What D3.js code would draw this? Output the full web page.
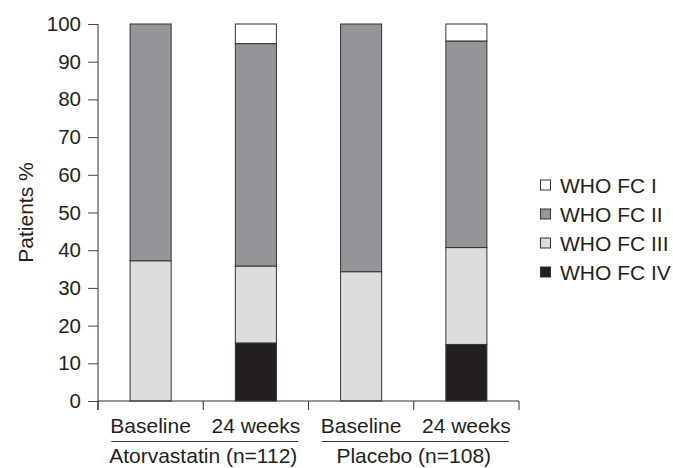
<!DOCTYPE html>
<html><head><meta charset="utf-8">
<script src="https://cdn.jsdelivr.net/npm/d3@7"></script>
<style>body{margin:0;background:#fff}svg{display:block}text{font-family:"Liberation Sans",Arial,sans-serif;fill:#231f20}</style>
</head><body><svg id="c" width="673" height="468"></svg>
<script>
const categories = ["Baseline", "24 weeks", "Baseline ", "24 weeks "];
const groups = ["Atorvastatin (n=112)", "Placebo (n=108)"];
const seriesNames = ["WHO FC IV", "WHO FC III", "WHO FC II", "WHO FC I"];
const fcIV  = [0, 15.4, 0, 15.0];
const fcIII = [37.2, 20.4, 34.3, 25.7];
const fcII  = [62.8, 59.0, 65.7, 54.8];
const fcI   = [0, 5.2, 0, 4.5];
const yTicks = [0,10,20,30,40,50,60,70,80,90,100];
const colors = {"WHO FC I":"#ffffff","WHO FC II":"#939598","WHO FC III":"#dcdddf","WHO FC IV":"#231f20"};

const svg = d3.select("#c");
const x0 = 98, x1 = 519, yTop = 24, yBot = 401;
const x = d3.scaleBand().domain(categories).range([x0, x1]).paddingInner(0.61).paddingOuter(0.305);
const y = d3.scaleLinear().domain([0, 100]).range([yBot, yTop]);

const rows = categories.map((c, i) => ({cat: c, "WHO FC IV": fcIV[i], "WHO FC III": fcIII[i], "WHO FC II": fcII[i], "WHO FC I": fcI[i]}));
const stack = d3.stack().keys(seriesNames)(rows);

const g = svg.append("g");
stack.forEach(s => {
  g.selectAll(null).data(s.filter(d => d[1] - d[0] > 0)).enter().append("rect")
    .attr("x", d => x(d.data.cat))
    .attr("width", x.bandwidth())
    .attr("y", d => y(d[1]))
    .attr("height", d => y(d[0]) - y(d[1]))
    .attr("fill", colors[s.key])
    .attr("stroke", "#333")
    .attr("stroke-width", 1);
});

// y axis
const ya = svg.append("g").attr("transform", `translate(${x0},0)`)
  .call(d3.axisLeft(y).tickValues(yTicks).tickSize(10).tickPadding(7));
ya.select(".domain").attr("stroke", "#333").attr("d", `M0,${yTop}V${yBot+9}`);
ya.selectAll(".tick line").attr("stroke", "#444");
ya.selectAll(".tick text").attr("font-size", 20.5).attr("font-family", '"Liberation Sans",Arial,sans-serif').attr("fill", "#231f20");

// x axis with boundary ticks
const step = x.step();
const bounds = d3.range(categories.length + 1).map(i => x0 + i * step);
const xa = svg.append("g");
xa.append("line").attr("x1", x0).attr("x2", x1).attr("y1", yBot).attr("y2", yBot).attr("stroke", "#333");
xa.selectAll(null).data(bounds).enter().append("line")
  .attr("x1", d => d).attr("x2", d => d).attr("y1", yBot).attr("y2", yBot + 9).attr("stroke", "#333");
xa.selectAll(null).data(categories).enter().append("text")
  .attr("x", d => x(d) + x.bandwidth() / 2).attr("y", 433)
  .attr("text-anchor", "middle").attr("font-size", 21).text(d => d.trim());

groups.forEach((gname, i) => {
  const cx = x0 + step * (2 * i + 1);
  xa.append("line").attr("x1", cx - 92).attr("x2", cx + 95).attr("y1", 441.5).attr("y2", 441.5).attr("stroke", "#333").attr("stroke-width", 1.2);
  xa.append("text").attr("x", cx).attr("y", 463).attr("text-anchor", "middle").attr("font-size", 21).text(gname);
});

// y label
svg.append("text").attr("transform", `translate(33,${(yTop + yBot) / 2}) rotate(-90)`)
  .attr("text-anchor", "middle").attr("font-size", 21).text("Patients %");

// legend
const legendOrder = ["WHO FC I", "WHO FC II", "WHO FC III", "WHO FC IV"];
const lg = svg.append("g");
legendOrder.forEach((k, i) => {
  const cy = 185 + i * 29;
  lg.append("rect").attr("x", 540.5).attr("y", cy - 5).attr("width", 10).attr("height", 10)
    .attr("fill", colors[k]).attr("stroke", "#333").attr("stroke-width", 1);
  lg.append("text").attr("x", 560).attr("y", cy + 7.5).attr("font-size", 21).text(k);
});
</script></body></html>
